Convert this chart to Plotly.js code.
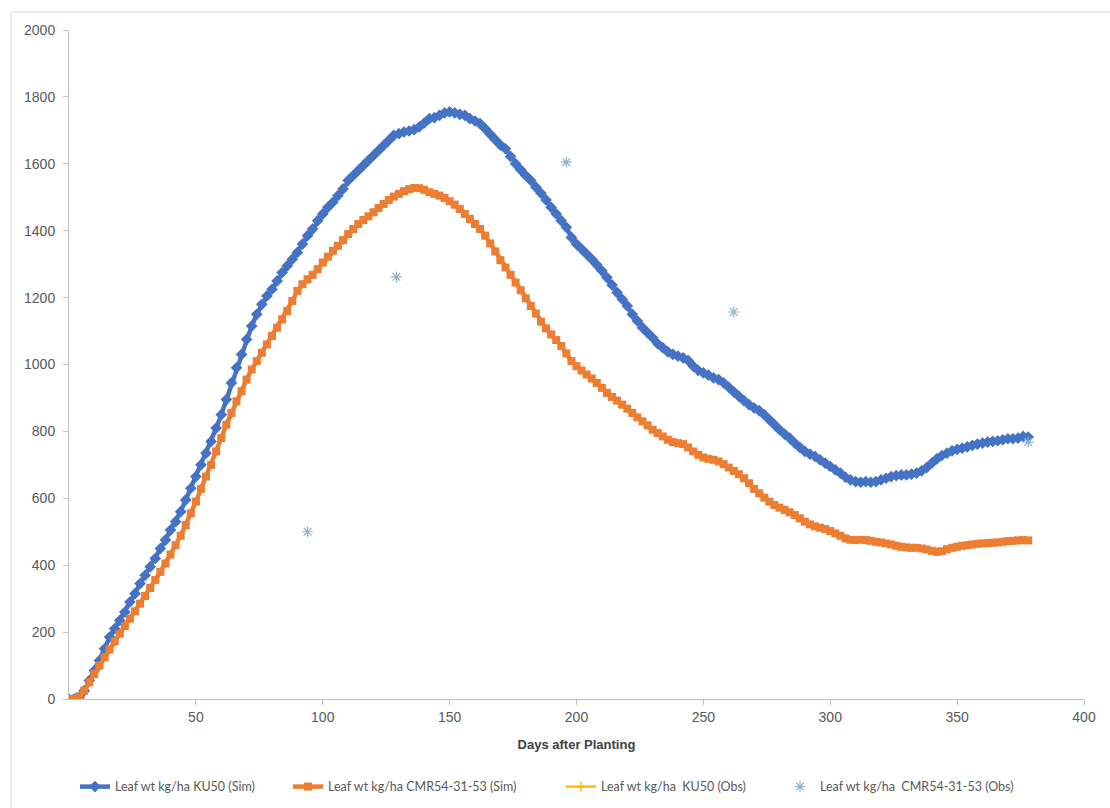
<!DOCTYPE html>
<html>
<head>
<meta charset="utf-8">
<script src="https://cdn.plot.ly/plotly-3.0.1.min.js"></script>
<style>
  html, body { margin: 0; padding: 0; background: #ffffff; }
  #chart { width: 1110px; height: 808px; }
</style>
</head>
<body>
<div id="chart"></div>
<script>
// Simulated leaf weight (kg/ha), sampled every 2 days after planting
const DAY_STEP = 2;

const KU50_SIM = [
  0, 0, 5, 25, 55, 85, 115, 150, 185, 210,
  235, 260, 290, 315, 345, 370, 395, 420, 450, 475,
  505, 530, 560, 595, 630, 665, 700, 735, 770, 810,
  850, 895, 945, 990, 1030, 1075, 1115, 1150, 1180, 1205,
  1225, 1250, 1275, 1295, 1315, 1335, 1360, 1385, 1405, 1430,
  1450, 1470, 1485, 1505, 1525, 1550, 1565, 1580, 1595, 1610,
  1625, 1640, 1655, 1670, 1685, 1690, 1695, 1698, 1702, 1710,
  1722, 1735, 1738, 1745, 1752, 1755, 1752, 1748, 1745, 1735,
  1728, 1720, 1705, 1688, 1672, 1656, 1645, 1622, 1600, 1582,
  1565, 1550, 1530, 1512, 1492, 1470, 1450, 1430, 1410, 1380,
  1360, 1345, 1330, 1315, 1298, 1280, 1260, 1238, 1215, 1195,
  1175, 1150, 1130, 1110, 1095, 1080, 1062, 1050, 1038, 1030,
  1025, 1020, 1012, 995, 982, 975, 968, 960, 955, 945,
  932, 918, 905, 892, 880, 870, 862, 850, 835, 820,
  805, 792, 780, 765, 752, 740, 732, 725, 715, 705,
  695, 685, 675, 663, 655, 650, 648, 650, 648, 650,
  655, 660, 665, 668, 670, 670, 672, 675, 682, 692,
  705, 718, 728, 735, 742, 746, 750, 754, 758, 762,
  765, 768, 770, 772, 775, 778, 778, 780, 785, 783
];

const CMR_SIM = [
  0, 0, 8, 25, 50, 75, 100, 125, 148, 172,
  195, 218, 240, 262, 285, 308, 332, 356, 380, 405,
  432, 460, 488, 520, 555, 590, 628, 665, 700, 740,
  780, 820, 855, 890, 920, 955, 985, 1010, 1035, 1060,
  1085, 1110, 1135, 1160, 1190, 1220, 1240, 1255, 1268, 1285,
  1305, 1322, 1340, 1355, 1372, 1390, 1405, 1420, 1432, 1443,
  1455, 1468, 1480, 1492, 1502, 1510, 1518, 1524, 1528, 1527,
  1522, 1515, 1510, 1505, 1498, 1488, 1478, 1465, 1450, 1435,
  1420, 1405, 1385, 1362, 1338, 1312, 1290, 1268, 1245, 1222,
  1198, 1175, 1152, 1128, 1108, 1090, 1073, 1055, 1033, 1010,
  995, 982, 970, 958, 945, 930, 915, 903, 892, 880,
  868, 855, 842, 830, 818, 805, 795, 785, 775, 768,
  765, 762, 752, 740, 730, 722, 718, 715, 710, 702,
  692, 682, 672, 660, 645, 628, 615, 602, 590, 580,
  572, 565, 558, 550, 540, 530, 522, 516, 512, 508,
  502, 495, 488, 480, 476, 475, 476, 475, 473, 470,
  468, 465, 462, 458, 455, 453, 452, 452, 450, 447,
  443, 440, 442, 448, 452, 455, 458, 460, 462, 464,
  465, 466, 467, 468, 470, 472, 473, 474, 475, 474
];

// Observed leaf weight, CMR54-31-53
const OBS_DAYS = [94, 129, 196, 262, 378];
const CMR_OBS = [500, 1262, 1605, 1157, 768];

// Observed leaf weight, KU50
const KU50_OBS_DAYS = [340];
const KU50_OBS = [705];

const SERIES_NAMES = [
  'Leaf wt kg/ha KU50 (Sim)',
  'Leaf wt kg/ha CMR54-31-53 (Sim)',
  'Leaf wt kg/ha\u00a0\u00a0KU50 (Obs)',
  'Leaf wt kg/ha\u00a0\u00a0CMR54-31-53 (Obs)'
];

const X_TICKS = [50, 100, 150, 200, 250, 300, 350, 400];
const Y_TICKS = [0, 200, 400, 600, 800, 1000, 1200, 1400, 1600, 1800, 2000];

const simDays = KU50_SIM.map((_, i) => i * DAY_STEP);

const BLUE = '#4472C4';
const ORANGE = '#ED7D31';
const GOLD = '#FFC000';
const OBS_COLOR = '#8FB0C8';
const AXIS_GREY = '#BFBFBF';
const TEXT_GREY = '#595959';

// KU50 observations sit underneath the simulated curves, so they are drawn first
const traces = [
  {
    x: KU50_OBS_DAYS, y: KU50_OBS, name: SERIES_NAMES[2], legend: 'legend3',
    type: 'scatter', mode: 'lines+markers',
    line: { color: GOLD, width: 2.5 },
    marker: { symbol: 'cross-thin-open', size: 7, color: GOLD, line: { color: GOLD, width: 1.5 } }
  },
  {
    x: simDays, y: KU50_SIM, name: SERIES_NAMES[0], legend: 'legend',
    type: 'scatter', mode: 'lines+markers',
    line: { color: BLUE, width: 4.5 },
    marker: { symbol: 'diamond', size: 9, color: BLUE }
  },
  {
    x: simDays, y: CMR_SIM, name: SERIES_NAMES[1], legend: 'legend2',
    type: 'scatter', mode: 'lines+markers',
    line: { color: ORANGE, width: 4.5 },
    marker: { symbol: 'square', size: 8, color: ORANGE }
  },
  {
    x: OBS_DAYS, y: CMR_OBS, name: SERIES_NAMES[3], legend: 'legend4',
    type: 'scatter', mode: 'markers',
    marker: { symbol: 'asterisk-open', size: 9, color: OBS_COLOR, line: { color: OBS_COLOR, width: 1.2 } }
  }
];

// one legend box per series, laid out in a row under the x-axis title
function legendAt(xPaper) {
  return {
    orientation: 'h',
    x: xPaper, xanchor: 'left',
    y: -0.1315, yanchor: 'middle',
    font: { family: 'Lato, "Liberation Sans", Arial, sans-serif', size: 12.5, color: TEXT_GREY },
    bgcolor: 'rgba(0,0,0,0)'
  };
}

const layout = {
  width: 1110,
  height: 808,
  paper_bgcolor: '#ffffff',
  plot_bgcolor: '#ffffff',
  margin: { l: 69, r: 26, t: 30, b: 109, pad: 0, autoexpand: false },
  font: { family: '"Liberation Sans", Arial, sans-serif', color: TEXT_GREY, size: 14 },
  showlegend: true,
  legend: legendAt(0.0059),
  legend2: legendAt(0.2158),
  legend3: legendAt(0.4847),
  legend4: legendAt(0.7005),
  xaxis: {
    range: [0, 400],
    tickmode: 'array', tickvals: X_TICKS,
    ticks: 'outside', ticklen: 5, tickcolor: AXIS_GREY,
    showline: true, linecolor: AXIS_GREY, linewidth: 1,
    showgrid: false, zeroline: false,
    automargin: false,
    tickfont: { size: 14, color: TEXT_GREY },
    title: {
      text: '<b>Days after Planting</b>',
      font: { size: 13, color: '#404040' },
      standoff: 16
    }
  },
  yaxis: {
    range: [0, 2000],
    tickmode: 'array', tickvals: Y_TICKS,
    ticks: 'outside', ticklen: 5, tickcolor: AXIS_GREY,
    showline: true, linecolor: AXIS_GREY, linewidth: 1,
    showgrid: false, zeroline: false,
    automargin: false,
    ticklabelstandoff: 5,
    tickfont: { size: 14, color: TEXT_GREY }
  },
  shapes: [
    // chart-area frame (left and top edges fall inside the page)
    {
      type: 'rect', xref: 'paper', yref: 'paper',
      x0: -0.0571, x1: 1.2, y0: -0.3, y1: 1.0269,
      line: { color: '#D9D9D9', width: 1 },
      fillcolor: 'rgba(0,0,0,0)',
      layer: 'below'
    }
  ]
};

Plotly.newPlot('chart', traces, layout, { displayModeBar: false, staticPlot: true });
</script>
</body>
</html>
